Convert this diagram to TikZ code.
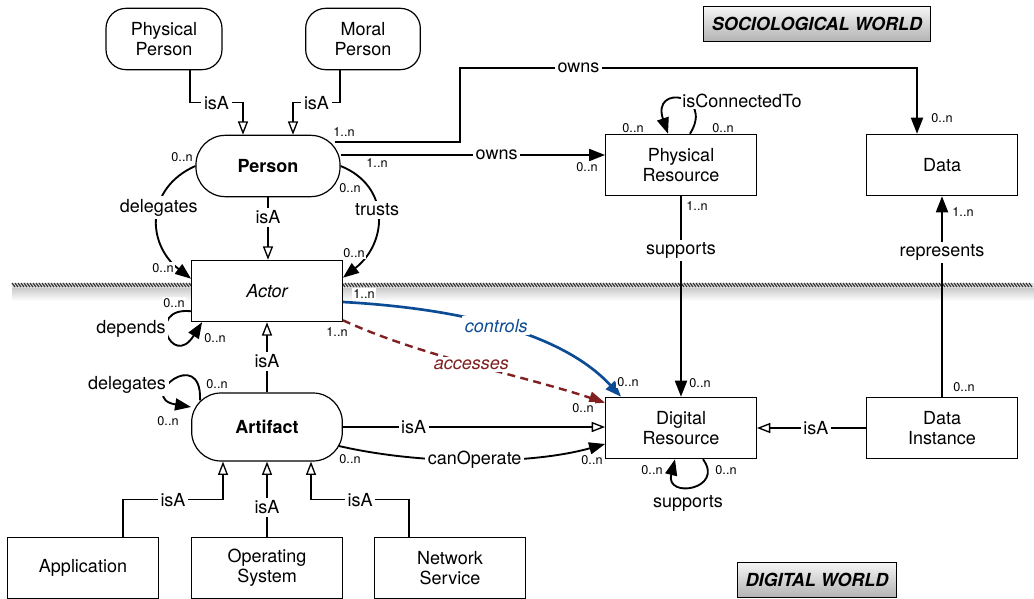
\documentclass[tikz,border=0pt]{standalone}
\usepackage{fontspec}
\setmainfont{TeX Gyre Heros}
\usetikzlibrary{arrows.meta,calc}

\definecolor{ctrlblue}{RGB}{12,76,148}
\definecolor{accred}{RGB}{128,32,32}

\tikzset{
	cls/.style={draw, line width=0.9pt, fill=white, align=center, inner sep=0pt,
		minimum width=113pt, minimum height=46pt, font=\fontsize{13.5}{15}\selectfont},
	role/.style={cls, rounded corners=22pt},
	lbl/.style={fill=white, inner sep=2pt, font=\fontsize{13.5}{15}\selectfont},
	mult/.style={fill=white, inner sep=1pt, font=\fontsize{9.5}{10}\selectfont},
	rel/.style={line width=1.4pt, -{Triangle[length=12pt,width=9pt]}},
	isa/.style={line width=1pt, -{Triangle[open,length=10pt,width=7.5pt]}},
	world/.style={draw, line width=0.8pt, top color=black!4, bottom color=black!30,
		inner sep=0pt, minimum height=26pt, font=\fontsize{13.5}{15}\selectfont\bfseries\itshape}
}

\begin{document}
\begin{tikzpicture}[x=0.75pt,y=0.75pt,yscale=-1,xscale=1]
	\useasboundingbox (0,0) rectangle (1034,599);
	% border between the two worlds
	\shade[top color=black!22, bottom color=white] (12,287) rectangle (1034,301);
	\fill[black!12] (12,282.5) rectangle (1034,287.5);
	\foreach \hx in {12,15,...,1030}
		\draw[black!80, line width=0.9pt] (\hx,283) -- (\hx+3,287);

	% classes
	\node[role, rounded corners=15pt, minimum width=87pt] (physp) at (164,39) {Physical\\Person};
	\node[role, rounded corners=15pt, minimum width=86pt] (moralp) at (363,39) {Moral\\Person};
	\node[role, minimum width=108pt, font=\fontsize{13.5}{15}\selectfont\bfseries] (person) at (268,166) {Person};
	\node[cls, font=\fontsize{13.5}{15}\selectfont\itshape] (actor) at (267,291) {Actor};
	\node[role, minimum height=51pt, font=\fontsize{13.5}{15}\selectfont\bfseries] (artifact) at (267,427) {Artifact};
	\node[cls] (app) at (83,568) {Application};
	\node[cls] (opsys) at (267,568) {Operating\\System};
	\node[cls] (netsvc) at (450,568) {Network\\Service};
	\node[cls] (physres) at (681,165) {Physical\\Resource};
	\node[cls] (data) at (942,165) {Data};
	\node[cls] (digres) at (681,428) {Digital\\Resource};
	\node[cls] (datainst) at (942,428) {Data\\Instance};

	\node[world, minimum width=170pt] (socio) at (817,24) {SOCIOLOGICAL WORLD};
	\node[world, minimum width=119pt] (digital) at (817,580) {DIGITAL WORLD};

	% isA links
	\draw[isa] ($(physp.south)+(26,0)$) |- ($(person.north)+(-25,-32)$) node[lbl,pos=0.75]{isA} -- ($(person.north)+(-25,0)$);
	\draw[isa] ($(moralp.south)+(-23,0)$) |- ($(person.north)+(25,-32)$) node[lbl,pos=0.75]{isA} -- ($(person.north)+(25,0)$);
	\draw[isa] (person.south) -- node[lbl,pos=0.32]{isA} (person.south |- actor.north);
	\draw[isa] (artifact.north) -- node[lbl,pos=0.44]{isA} (actor.south);
	\draw[isa] (opsys.north) -- node[lbl,pos=0.39]{isA} (artifact.south);
	\draw[isa] ($(app.north)+(40,0)$) |- ($(artifact.south)+(-44,38)$) node[lbl,pos=0.75]{isA} -- ($(artifact.south)+(-44,0)$);
	\draw[isa] ($(netsvc.north)+(-41,0)$) |- ($(artifact.south)+(44,38)$) node[lbl,pos=0.75]{isA} -- ($(artifact.south)+(44,0)$);
	\draw[isa] (artifact.east) -- node[lbl,pos=0.27]{isA} (artifact.east -| digres.west);
	\draw[isa] (datainst.west) -- node[lbl,pos=0.46]{isA} (digres.east);

	% relations
	\draw[rel] ($(person.east)+(-6,-24)$) -- ++(125,0) |- ($(data.north)+(-25,-66)$) node[lbl,pos=0.63]{owns} -- ($(data.north)+(-25,0)$);
	\draw[rel] ($(person.east)+(0,-11)$) -- node[lbl,pos=0.59]{owns} ($(physres.west)+(0,-10)$);
	\draw[rel] (person.west) .. controls +(-50,22) and +(-45,-35) .. node[lbl,pos=0.42]{delegates} ($(actor.north west)+(0,19)$);
	\draw[rel] (person.east) .. controls +(50,20) and +(45,-35) .. node[lbl,pos=0.45]{trusts} ($(actor.north east)+(0,18)$);
	\draw[rel] (physres.south) -- node[lbl,pos=0.27]{supports} (digres.north);
	\draw[rel] (datainst.north) -- node[lbl,pos=0.72]{represents} (data.south);
	\draw[rel] ($(artifact.east)+(-4,19)$) .. controls +(82,19) and +(-75,21) .. node[lbl,pos=0.5]{canOperate} ($(digres.west)+(0,16)$);
	\draw[rel, line width=2pt, ctrlblue] ($(actor.east)+(0,11)$) .. controls +(108,6) and +(-62,-67) .. node[lbl,pos=0.49,font=\fontsize{13.5}{15}\selectfont\itshape]{controls} ($(digres.north west)+(16,0)$);
	\draw[rel, line width=1.8pt, accred, dash pattern=on 6pt off 4pt] ($(actor.south east)+(0,-2)$) .. controls +(78,36) and +(-85,-28) .. node[lbl,pos=0.5,font=\fontsize{13.5}{15}\selectfont\itshape]{accesses} ($(digres.north west)+(0,6)$);

	% self loops
	\draw[rel] ($(physres.north)+(9,0)$) .. controls +(25,-40) and +(-17,-50) .. ($(physres.north)+(-13,0)$);
	\node[lbl, inner sep=1pt] (conn) at (742,101) {isConnectedTo};
	\draw[rel] ($(digres.south)+(22,0)$) .. controls +(22,30) and +(-10,40) .. ($(digres.south)+(-6,0)$);
	\node[lbl, inner sep=1pt] (supp) at (688,503) {supports};
	\draw[rel] ($(actor.south west)+(0,-11)$) .. controls +(-46,-5) and +(-30,48) .. ($(actor.south west)+(11,0)$);
	\node[lbl] (dep) at (131,329) {depends};
	\draw[rel] ($(artifact.north west)+(9,8)$) .. controls +(2,-56) and +(-55,-9) .. ($(artifact.west)+(0,-20)$);
	\node[lbl] (deleg) at (127,385) {delegates};

	% multiplicities
	\foreach \mx/\my/\mt [count=\k] in {182/157/0, 344/132/1, 377/163/1, 350/188/0, 354/253/0,
		163/268/0, 174/303/0, 215/338/0, 364/294/1, 337/332/1, 217/384/0, 168/421/0,
		350/459/0, 628/382/0, 700/383/0, 583/408/0, 592/460/0, 652/470/0, 726/470/0,
		587/167/0, 633/128/0, 723/128/0, 697/206/1, 942/118/0, 963/212/1, 964/387/0}
		\node[mult] (m\k) at (\mx,\my) {\mt..n};
\end{tikzpicture}
\end{document}
